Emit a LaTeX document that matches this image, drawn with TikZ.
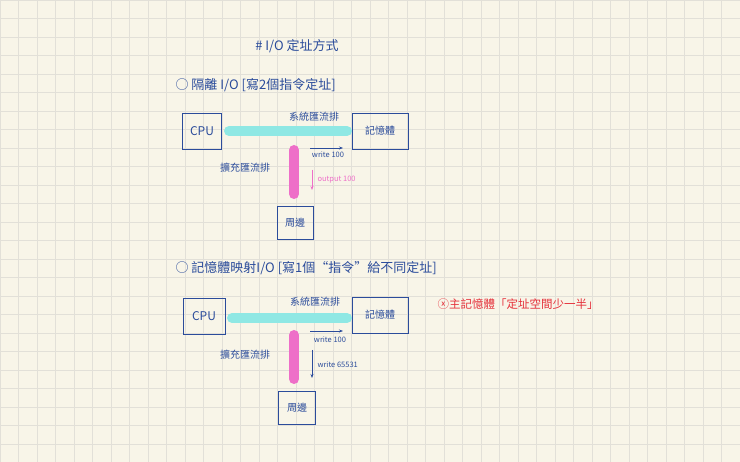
\documentclass[tikz,border=0pt]{standalone}
\usepackage{fontspec}
\setmainfont{Noto Sans CJK TC}
\usetikzlibrary{arrows.meta}
\definecolor{ink}{HTML}{2B4C9B}
\definecolor{paper}{HTML}{F8F5E8}
\definecolor{gridc}{HTML}{E2E0D8}
\definecolor{busc}{HTML}{8FE8E4}
\definecolor{pinkc}{HTML}{EE6FC8}
\definecolor{redc}{HTML}{E5303A}
\begin{document}
\begin{tikzpicture}[x=1pt,y=-1pt,
  box/.style={draw=ink,line width=0.8pt,minimum width=#1,minimum height=36pt,inner sep=0pt,text=ink},
  lbl/.style={text=ink,font=\fontsize{10}{11}\selectfont},
  sm/.style={text=ink,font=\fontsize{7.5}{8}\selectfont},
  big/.style={text=ink,font=\fontsize{13}{14}\selectfont},
  sys/.style={busc,line width=10pt,line cap=round},
  ext/.style={pinkc,line width=10pt,line cap=round},
  arr/.style={-{Stealth[length=4pt]},line width=0.7pt}]
\fill[paper] (0,0) rectangle (740,462);
\useasboundingbox (0,0) rectangle (740,462);
\foreach \i in {0,...,40} {\draw[gridc,line width=0.5pt] (\i*18.5,0) -- (\i*18.5,462);}
\foreach \j in {0,...,25} {\draw[gridc,line width=0.5pt] (0,\j*18.5) -- (740,\j*18.5);}
\node[big] (t) at (297,46) {\# I/O 定址方式};
\node[big,anchor=west] (h1) at (172,85) {○ 隔離 I/O [寫2個指令定址]};
% diagram 1
\node[box=39pt] (cpu1) at (202,131) {\large CPU};
\node[box=56pt] (mem1) at (380,131) {記憶體};
\node[box=36pt,minimum height=33pt] (per1) at (295,223) {周邊};
\coordinate (b1a) at (229,131); \coordinate (b1b) at (347,131);
\draw[sys] (b1a) -- (b1b);
\coordinate (p1a) at (294,150); \coordinate (p1b) at (294,194);
\draw[ext] (p1a) -- (p1b);
\node[lbl] (s1) at (314,117) {系統匯流排};
\node[lbl] (e1) at (245,168) {擴充匯流排};
\coordinate (w1a) at (310,148); \coordinate (w1b) at (343,148);
\draw[arr,ink] (w1a) -- (w1b);
\node[sm] (w1) at (328,155) {write 100};
\coordinate (o1a) at (312,170); \coordinate (o1b) at (312,190);
\draw[arr,pinkc] (o1a) -- (o1b);
\node[sm,text=pinkc,anchor=west] (o1) at (314,180) {output 100};
% diagram 2
\node[big,anchor=west] (h2) at (172,268) {○ 記憶體映射I/O [寫1個“指令”給不同定址]};
\node[box=42pt] (cpu2) at (204,316) {\large CPU};
\node[box=56pt] (mem2) at (380,315) {記憶體};
\node[box=37pt,minimum height=33pt] (per2) at (297,408) {周邊};
\coordinate (b2a) at (232,318); \coordinate (b2b) at (347,318);
\draw[sys] (b2a) -- (b2b);
\coordinate (p2a) at (294,335); \coordinate (p2b) at (294,379);
\draw[ext] (p2a) -- (p2b);
\node[lbl] (s2) at (315,302) {系統匯流排};
\node[lbl] (e2) at (245,355) {擴充匯流排};
\coordinate (w2a) at (310,331); \coordinate (w2b) at (343,331);
\draw[arr,ink] (w2a) -- (w2b);
\node[sm] (w2) at (330,340) {write 100};
\coordinate (x2a) at (312,350); \coordinate (x2b) at (312,378);
\draw[arr,ink] (x2a) -- (x2b);
\node[sm,anchor=west] (x2) at (314,365) {write 65531};
\node[text=redc,font=\fontsize{11.5}{12}\selectfont] (note) at (518,304) {ⓧ主記憶體「定址空間少一半」};
\end{tikzpicture}
\end{document}
